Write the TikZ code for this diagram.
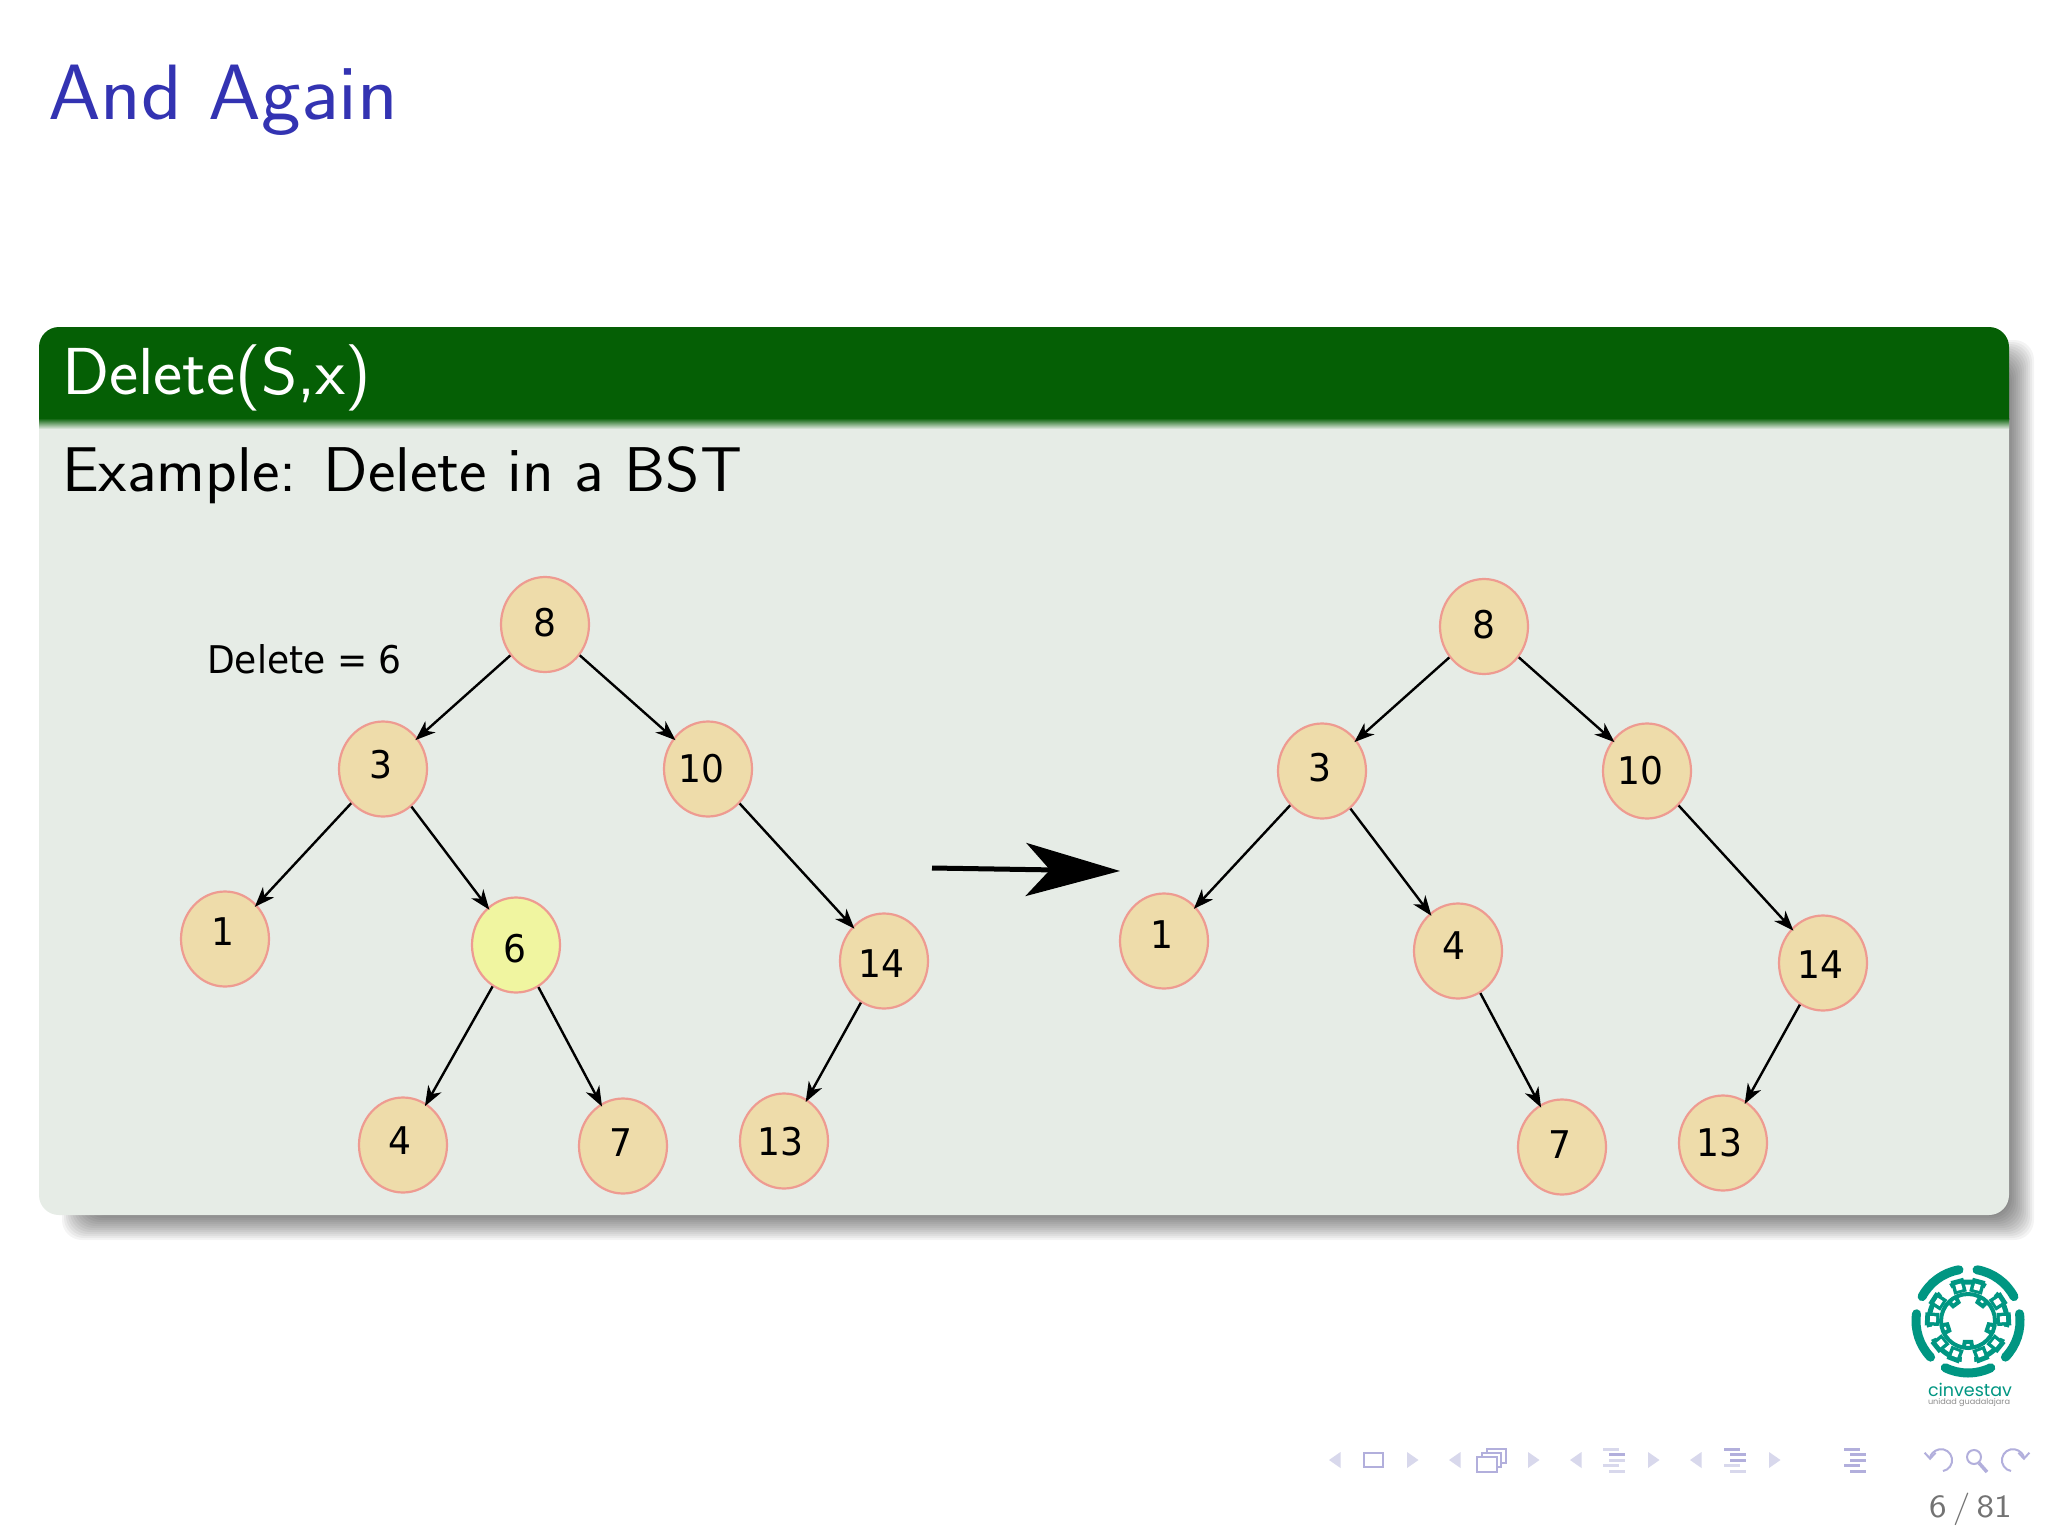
\documentclass[tikz,border=0pt]{standalone}
\usepackage{fontspec}
\usepackage{graphicx}
\usetikzlibrary{arrows.meta,shapes.geometric}
\newfontfamily\djv{DejaVu Sans}
\newfontfamily\popp{Poppins}
\definecolor{titleblue}{RGB}{51,51,178}
\definecolor{hdgreen}{RGB}{5,95,5}
\definecolor{bodygr}{RGB}{230,236,230}
\definecolor{nfill}{RGB}{238,220,170}
\definecolor{nedge}{RGB}{238,155,145}
\definecolor{nhl}{RGB}{240,245,160}
\definecolor{navd}{RGB}{178,175,220}
\definecolor{navl}{RGB}{216,216,236}
\definecolor{teal}{RGB}{0,150,130}
\newcommand{\nl}[3]{\raisebox{\dimexpr-14pt+#3pt\relax}[0pt][0pt]{\makebox[0pt]{\kern\dimexpr-5pt+2pt*\numexpr#2\relax\relax\scalebox{1.03}[1.09]{\fontsize{35}{40}\selectfont\djv #1}}}}
\newcommand{\bars}[6]{%
 \fill[#2] (#1,1447.5) rectangle ++(16,3);
 \fill[#3] (#1+6,1453) rectangle ++(16,3);
 \fill[#4] (#1+6,1458.5) rectangle ++(16,3);
 \fill[#5] (#1,1464) rectangle ++(16,3);
 \fill[#6] (#1+6,1469.5) rectangle ++(16,3);}
\tikzset{
 tn/.style={ellipse,draw=nedge,fill=nfill,line width=2.2pt,minimum width=88pt,minimum height=95pt,inner sep=0pt,outer sep=1pt},
 hl/.style={tn,fill=nhl},
 ed/.style={line width=2.4pt,shorten >=-3pt,-{Stealth[length=20pt,width=15pt,inset=6pt]}},
 bigar/.style={line width=5pt,-{Stealth[length=94pt,width=53pt,inset=24pt]}},
 lab/.style={inner sep=0pt,anchor=base west},
 navic/.style={draw=navd,line width=2pt,fill=white},
 navar/.style={navd,line width=2pt,-{Straight Barb[length=6pt,width=11pt]}}
}
\begin{document}
\begin{tikzpicture}[x=1pt,y=-1pt]
\useasboundingbox (0,0) rectangle (2048,1536);
\fill[white] (0,0) rectangle (2048,1536);
% title
\node[lab] (title) at (48,120) {\color{titleblue}\scalebox{1.17}[1.09]{\fontsize{72}{80}\selectfont\sffamily And Again}};
% shadow
\foreach \i in {0,...,13}
 \fill[black,opacity=.042,rounded corners=20pt] (62+2*\i,340+2*\i) rectangle (2034-2*\i,1240-2*\i);
% block
\fill[bodygr,rounded corners=20pt] (39,400) rectangle (2009,1215);
\fill[hdgreen,rounded corners=20pt] (39,327) rectangle (2009,440);
\fill[bodygr] (39,425) rectangle (2009,445);
\shade[top color=hdgreen,bottom color=bodygr] (39,418) rectangle (2009,429);
\node[lab] (blocktitle) at (62,394) {\color{white}\scalebox{1.14}[1.09]{\fontsize{61}{70}\selectfont\sffamily Delete(S,x)}};
\node[lab] (example) at (62,491) {\scalebox{1.13}[1.09]{\fontsize{58}{60}\selectfont\sffamily Example: Delete in a BST}};
\node[lab] (del) at (207,673) {\scalebox{1.03}[1.09]{\fontsize{35}{40}\selectfont\djv Delete = 6}};
% left tree
\node[tn] (a8) at (545,624.5) {\nl{8}{2}{2}};
\node[tn] (a3) at (383,769) {\nl{3}{0}{5}};
\node[tn] (a10) at (708,769) {\nl{10}{-4}{1}};
\node[tn] (a1) at (225,939) {\nl{1}{0}{8}};
\node[hl] (a6) at (516,945) {\nl{6}{1}{-3}};
\node[tn] (a14) at (884,961) {\nl{14}{0}{-2}};
\node[tn] (a4) at (403,1145) {\nl{4}{-1}{5}};
\node[tn] (a7) at (623,1146) {\nl{7}{0}{4}};
\node[tn] (a13) at (784,1141) {\nl{13}{-1}{0}};
\draw[ed] (a8) -- (a3);
\draw[ed] (a8) -- (a10);
\draw[ed] (a3) -- (a1);
\draw[ed] (a3) -- (a6);
\draw[ed] (a6) -- (a4);
\draw[ed] (a6) -- (a7);
\draw[ed] (a10) -- (a14);
\draw[ed] (a14) -- (a13);
% big arrow
\coordinate (bs) at (932,868);
\coordinate (be) at (1120,871);
\draw[bigar] (bs) -- (be);
% right tree
\node[tn] (b8) at (1484,626.5) {\nl{8}{2}{2}};
\node[tn] (b3) at (1322,771) {\nl{3}{0}{4}};
\node[tn] (b10) at (1647,771) {\nl{10}{-4}{1}};
\node[tn] (b1) at (1164,941) {\nl{1}{0}{7}};
\node[tn] (b4) at (1458,951) {\nl{4}{-2}{6}};
\node[tn] (b14) at (1823,963) {\nl{14}{0}{-1}};
\node[tn] (b7) at (1562,1147) {\nl{7}{0}{3}};
\node[tn] (b13) at (1723,1143) {\nl{13}{-1}{1}};
\draw[ed] (b8) -- (b3);
\draw[ed] (b8) -- (b10);
\draw[ed] (b3) -- (b1);
\draw[ed] (b3) -- (b4);
\draw[ed] (b4) -- (b7);
\draw[ed] (b10) -- (b14);
\draw[ed] (b14) -- (b13);
% logo
\begin{scope}[shift={(1968,1321)}]
 \draw[teal,line width=4pt] (0,0) circle (27);
 \draw[teal,line width=5pt] (0,0) circle (39);
 \foreach \a in {-90,-18,54,126,198}{
  \begin{scope}[rotate=\a]
   \draw[white,line width=9pt] (-9:39) arc (-9:9:39);
   \draw[teal,line width=9pt,line cap=round] (-26:52) arc (-26:26:52);
   \draw[teal,line width=4pt] (-9:27) -- (-9:21) -- (9:21) -- (9:27);
   \foreach \s in {-21,21}{
    \fill[teal,rotate=\s] (29,-6.5) rectangle (43,6.5);
    \fill[white,rotate=\s] (32,-3) rectangle (38,3);
   }
  \end{scope}}
\end{scope}
\node[inner sep=0pt,anchor=base] (logo1) at (1970,1396) {\color{teal}\resizebox{84pt}{!}{\popp cinvestav}};
\node[inner sep=0pt,anchor=base] (logo2) at (1969,1404) {\color{black!45}\resizebox{82pt}{6pt}{\popp unidad guadalajara}};
% nav
\foreach \xa/\xb in {1329/1407,1449/1528,1570/1648,1690/1769}{
 \fill[navl] (\xa,1460) -- (\xa+11.5,1452) -- (\xa+11.5,1468) -- cycle;
 \fill[navl] (\xb,1452) -- (\xb+11.5,1460) -- (\xb,1468) -- cycle;
}
\draw[navd,line width=2pt] (1364,1453) rectangle (1383,1467);
\draw[navic] (1487,1449) rectangle (1506,1463);
\draw[navic] (1482,1453) rectangle (1501,1467);
\draw[navic] (1477,1457) rectangle (1497,1472);
\bars{1603}{navl}{navd}{navl}{navl}{navl}
\bars{1724}{navd}{navd}{navd}{navl}{navl}
\bars{1844}{navd}{navd}{navd}{navd}{navd}
\draw[navar] (1943,1471) arc (80:-180:11);
\draw[navd,line width=2pt] (1974,1457) circle (7);
\draw[navd,line width=3.5pt] (1979,1463) -- (1987,1472);
\draw[navar] (2011,1471) arc (100:360:11);
\node[lab] (page) at (1929,1517) {\color{black!55}\scalebox{1.2}[1.05]{\fontsize{31}{36}\selectfont\sffamily 6\,/\,81}};
\end{tikzpicture}
\end{document}
